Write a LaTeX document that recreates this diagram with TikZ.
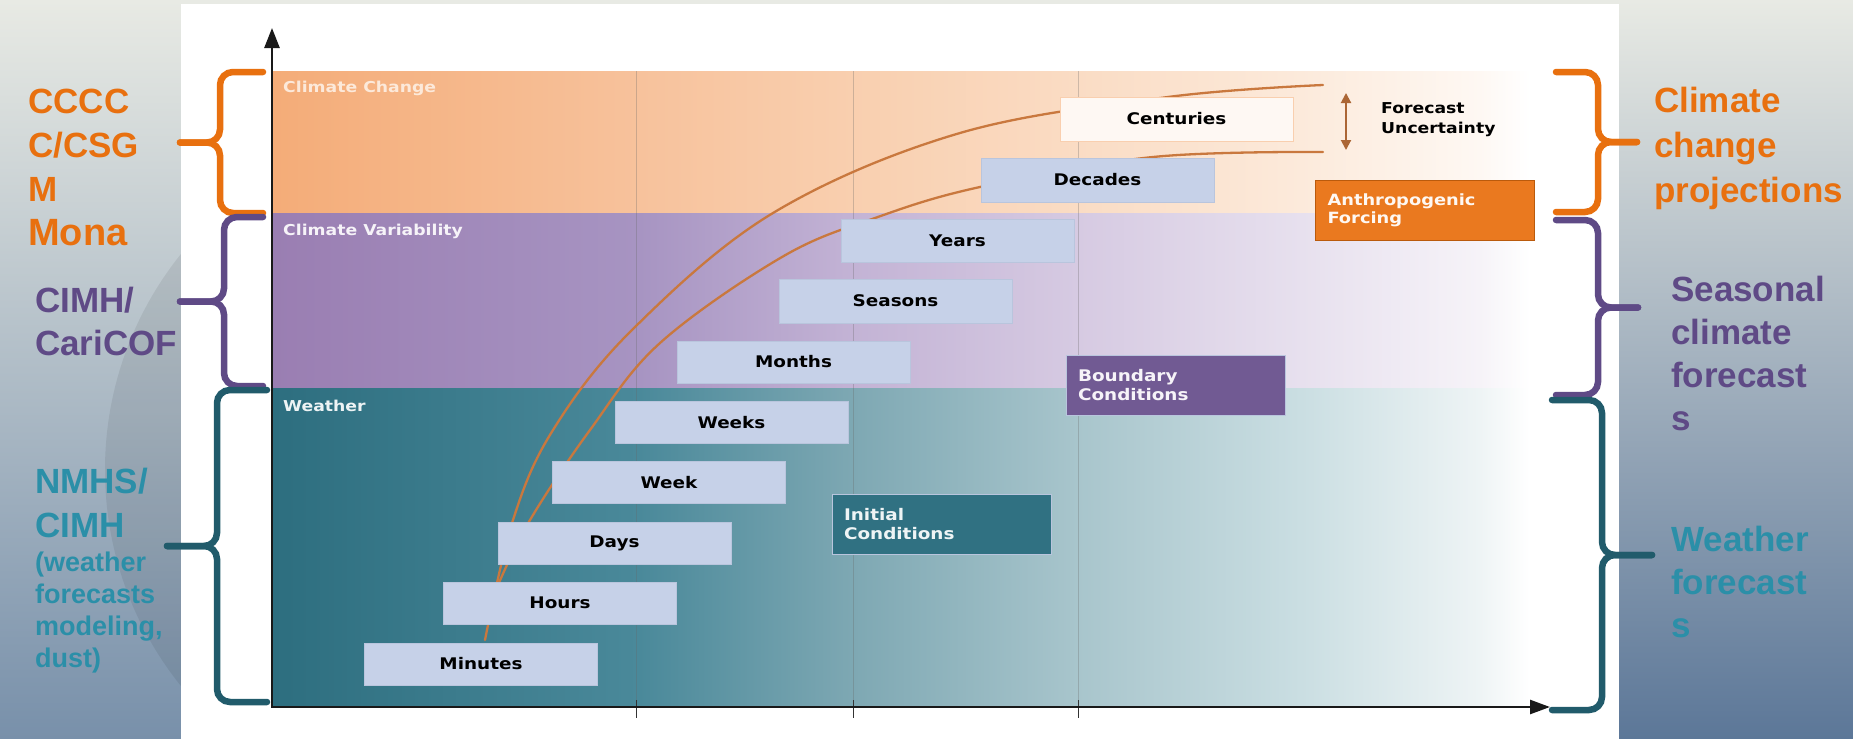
\documentclass[tikz,border=0pt]{standalone}
\usepackage{fontspec}
\setmainfont{Liberation Sans}
\newfontfamily\boxfont{DejaVu Sans}[FakeStretch=1.15]
\usepackage{xcolor}
\usepackage{tikz}
\usetikzlibrary{arrows.meta}
\definecolor{ccorange}{HTML}{E8700F}
\definecolor{cvpurple}{HTML}{5F4A86}
\definecolor{wxteal}{HTML}{2B8FA8}
\definecolor{wxbrace}{HTML}{215B6B}
\definecolor{curve}{HTML}{C9783E}
\definecolor{tbfill}{HTML}{C6D1E8}
\definecolor{tbline}{HTML}{B9C5DD}
\definecolor{panA}{HTML}{E8EAE4}
\definecolor{panB}{HTML}{B4BFC8}
\definecolor{panC}{HTML}{7890AA}
\definecolor{panD}{HTML}{A7B2BC}
\definecolor{panE}{HTML}{5C7798}
\definecolor{ccA}{HTML}{F4AC78}
\definecolor{ccB}{HTML}{F7C29C}
\definecolor{ccC}{HTML}{F9CFAF}
\definecolor{ccD}{HTML}{FADCC4}
\definecolor{ccE}{HTML}{FCEADB}
\definecolor{ccF}{HTML}{FEF8F3}
\definecolor{cvA}{HTML}{9A7EB2}
\definecolor{cvB}{HTML}{A794C2}
\definecolor{cvC}{HTML}{C3B3D5}
\definecolor{cvD}{HTML}{D6CAE2}
\definecolor{cvE}{HTML}{E7E0EE}
\definecolor{cvF}{HTML}{F6F3F8}
\definecolor{wxA}{HTML}{2D6E7F}
\definecolor{wxB}{HTML}{4A899A}
\definecolor{wxC}{HTML}{7EA8B3}
\definecolor{wxD}{HTML}{A8C5CC}
\definecolor{wxE}{HTML}{CADEE2}
\definecolor{wxF}{HTML}{EEF4F5}
\pgfdeclarehorizontalshading{ccband}{100bp}{color(0bp)=(ccA); color(25bp)=(ccA); color(39.6bp)=(ccB); color(48.1bp)=(ccC); color(57bp)=(ccD); color(65.9bp)=(ccE); color(73bp)=(ccF); color(75bp)=(white); color(100bp)=(white)}
\pgfdeclarehorizontalshading{cvband}{100bp}{color(0bp)=(cvA); color(25bp)=(cvA); color(39.6bp)=(cvB); color(48.1bp)=(cvC); color(57bp)=(cvD); color(65.9bp)=(cvE); color(73bp)=(cvF); color(75bp)=(white); color(100bp)=(white)}
\pgfdeclarehorizontalshading{wxband}{100bp}{color(0bp)=(wxA); color(25bp)=(wxA); color(39.6bp)=(wxB); color(48.1bp)=(wxC); color(57bp)=(wxD); color(65.9bp)=(wxE); color(73bp)=(wxF); color(75bp)=(white); color(100bp)=(white)}
\tikzset{
  axis/.style={draw=black!90, line width=2.6pt},
  grid/.style={draw=black!60, opacity=0.3, line width=0.8pt},
  fcurve/.style={draw=curve, line width=2.3pt, line cap=round},
  tbox/.style={fill=tbfill, draw=tbline, line width=0.6pt, minimum width=233pt, minimum height=42pt, inner sep=0pt, font=\boxfont\bfseries\fontsize{16}{19}\selectfont},
  cbox/.style={draw=tbline, line width=0.6pt, minimum width=219pt, minimum height=60pt, text width=195pt, inner xsep=12pt, inner ysep=0pt, align=left, font=\boxfont\bfseries\fontsize{16}{19}\selectfont},
  bandlab/.style={anchor=base west, inner sep=0pt, font=\boxfont\bfseries\fontsize{15}{18}\selectfont},
  lab/.style={anchor=base west, inner sep=0pt, align=left, font=\bfseries\fontsize{35}{44}\selectfont},
  brc/.style={line width=6.5pt, rounded corners=13pt, line cap=round},
}
% brace: colour, x of the ends, x of the spine, x of the tip, top, bottom
\newcommand{\groupbrace}[6]{%
  \draw[brc, #1] (#2,#5) -- (#3,#5) -- (#3,{(#5+#6)/2}) -- (#4,{(#5+#6)/2});
  \draw[brc, #1] (#4,{(#5+#6)/2}) -- (#3,{(#5+#6)/2}) -- (#3,#6) -- (#2,#6);
}
\begin{document}
\begin{tikzpicture}[x=1pt, y=-1pt]
  \useasboundingbox (0,0) rectangle (1853,739);

  % slide background
  \shade[top color=panA, middle color=panB, bottom color=panC] (0,0) rectangle (181,739);
  \begin{scope}
    \clip (0,0) rectangle (181,739);
    \fill[black, opacity=0.07] (450,470) circle (345pt);
  \end{scope}
  \shade[top color=panA, middle color=panD, bottom color=panE] (1619,0) rectangle (1853,739);
  \fill[panA] (181,0) rectangle (1619,4);
  \fill[white] (181,4) rectangle (1619,739);

  % the three bands
  \shade[shading=ccband] (272,71) rectangle (1530,213);
  \shade[shading=cvband] (272,213) rectangle (1530,388);
  \shade[shading=wxband] (272,388) rectangle (1530,707);
  \node[bandlab, text=ccF!80!ccA] (cclab) at (283,92) {Climate Change};
  \node[bandlab, text=cvF] (cvlab) at (283,235) {Climate Variability};
  \node[bandlab, text=wxF] (wxlab) at (283,411) {Weather};

  % grid lines and ticks
  \draw[grid] (636,71) -- (636,707);
  \draw[grid] (853,71) -- (853,707);
  \draw[grid] (1078,71) -- (1078,707);
  \draw[black!80, line width=1pt] (636,700) -- (636,718);
  \draw[black!80, line width=1pt] (853,700) -- (853,718);
  \draw[black!80, line width=1pt] (1078,700) -- (1078,718);

  % predictability curves
  \draw[fcurve] plot[smooth, tension=0.6] coordinates {(485,640) (513,520) (553,430) (632,330) (773,213) (960,133) (1168,97) (1323,85)};
  \draw[fcurve] plot[smooth, tension=0.6] coordinates {(498,585) (530,520) (590,430) (660,343) (782,257) (875,218) (980,187) (1153,157) (1323,152)};

  % time scales
  \node[tbox] (minutes) at (481,664) {Minutes};
  \node[tbox] (hours) at (560,603) {Hours};
  \node[tbox] (days) at (614.5,543) {Days};
  \node[tbox] (week) at (669,482.5) {Week};
  \node[tbox] (weeks) at (731.5,422.5) {Weeks};
  \node[tbox] (months) at (793.5,362) {Months};
  \node[tbox, minimum height=44pt] (seasons) at (895.5,301) {Seasons};
  \node[tbox, minimum height=43pt] (years) at (957.5,240.5) {Years};
  \node[tbox, minimum height=44pt] (decades) at (1097.5,180) {Decades};
  \node[tbox, fill=ccF, draw=ccC, minimum height=44pt] (centuries) at (1176.5,119) {Centuries};

  % sources of predictability
  \node[cbox, fill=wxA!90!wxB, text=wxF] (initial) at (941.5,524) {Initial\\Conditions};
  \node[cbox, fill=cvpurple!70!cvA, text=cvF] (boundary) at (1175.5,385.5) {Boundary\\Conditions};
  \node[cbox, fill=ccorange!85!ccA, draw=ccorange!80!black, text=ccF, font=\boxfont\bfseries\fontsize{15.5}{18}\selectfont] (forcing) at (1425,210) {Anthropogenic\\Forcing};

  % forecast uncertainty
  \coordinate (futop) at (1346,93);
  \coordinate (fubot) at (1346,150);
  \draw[curve!85!black, line width=2pt, {Triangle[length=10pt,width=10pt]}-{Triangle[length=10pt,width=10pt]}] (futop) -- (fubot);
  \node[anchor=west, inner sep=0pt, align=left, font=\boxfont\bfseries\fontsize{15}{20}\selectfont] (fulab) at (1381,120) {Forecast\\Uncertainty};

  % axes
  \coordinate (O) at (272,707);
  \coordinate (ytip) at (272,28);
  \coordinate (xtip) at (1550,707);
  \draw[axis, {Triangle[length=20pt,width=15pt]}-{Triangle[length=20pt,width=14pt]}] (ytip) -- (O) -- (xtip);

  % who does what, left (nodes placed at the baseline of their last line)
  \node[lab, text=ccorange] (cccc) at (28,245) {CCCC\\C/CSG\\M\\{\fontsize{38}{44}\selectfont Mona}};
  \node[lab, text=cvpurple, font=\bfseries\fontsize{35}{43}\selectfont] (cimh) at (35,355) {CIMH/\\CariCOF};
  \node[lab, text=wxteal] (nmhs) at (35,537) {NMHS/\\CIMH};
  \node[lab, text=wxteal, font=\bfseries\fontsize{27}{32}\selectfont] (nmhsnote) at (35,667) {(weather\\forecasts\\modeling,\\dust)};

  % what they provide, right
  \node[lab, text=ccorange, font=\bfseries\fontsize{35}{45}\selectfont] (ccproj) at (1654,202) {Climate\\change\\projections};
  \node[lab, text=cvpurple, font=\bfseries\fontsize{35}{43}\selectfont] (seasonal) at (1671,430) {Seasonal\\climate\\forecast\\s};
  \node[lab, text=wxteal, font=\bfseries\fontsize{35}{43}\selectfont] (weatherfc) at (1671,637) {Weather\\forecast\\s};

  % braces
  \groupbrace{ccorange}{263}{220}{180}{72}{213}
  \groupbrace{cvpurple}{263}{224}{180}{217}{386}
  \groupbrace{wxbrace}{267}{217}{167}{390}{702}
  \groupbrace{ccorange}{1556}{1598}{1637}{72}{212}
  \groupbrace{cvpurple}{1556}{1598}{1638}{220}{395}
  \groupbrace{wxbrace}{1552}{1602}{1652}{400}{710}
\end{tikzpicture}
\end{document}
